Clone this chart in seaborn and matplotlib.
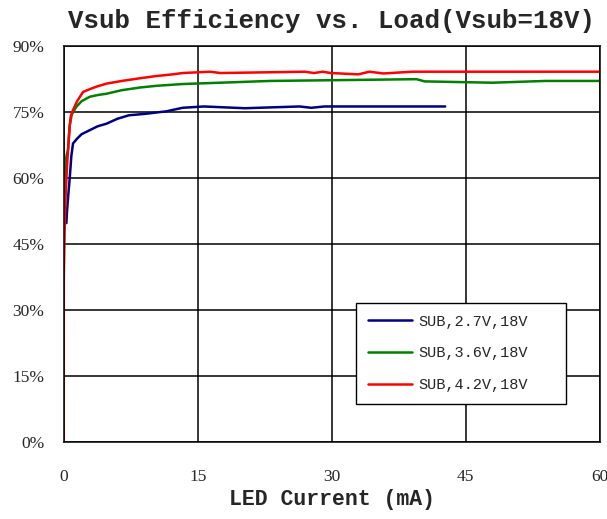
import pandas as pd
import matplotlib
matplotlib.use("Agg")
import matplotlib.pyplot as plt
import seaborn as sns

# LED current (mA) and efficiency (%)
x_27 = [0.3, 0.35, 0.5, 0.67, 0.85, 1.04, 1.5, 2.0, 2.9, 3.8, 4.8, 6.0, 7.3, 9.0, 11.5, 13.3, 15.7, 20.3, 23.3, 26.4, 27.7, 29.2, 42.7]
y_27 = [49.8, 52.0, 56.0, 60.0, 65.0, 67.9, 69.0, 70.0, 70.9, 71.8, 72.4, 73.5, 74.3, 74.6, 75.2, 76.0, 76.3, 75.9, 76.1, 76.3, 76.0, 76.3, 76.3]

x_36 = [0.03, 0.05, 0.1, 0.2, 0.35, 0.48, 0.67, 0.9, 1.4, 2.0, 2.9, 3.8, 4.8, 6.5, 8.5, 10.4, 13.3, 23.1, 39.5, 40.4, 48.0, 53.9, 60.0]
y_36 = [52.0, 56.8, 60.0, 63.6, 65.5, 66.4, 72.0, 74.5, 76.2, 77.5, 78.5, 78.9, 79.2, 80.0, 80.6, 81.0, 81.4, 82.1, 82.5, 82.0, 81.7, 82.1, 82.1]

x_42 = [0.0, 0.01, 0.1, 0.22, 0.35, 0.48, 0.63, 0.78, 1.04, 1.5, 2.16, 3.0, 3.8, 4.8, 6.5, 8.5, 10.3, 12.2, 13.3, 16.4, 17.5, 27.0, 28.0, 29.0, 29.9, 33.0, 34.2, 35.8, 39.0, 60.0]
y_42 = [0.0, 37.5, 48.0, 56.6, 62.0, 66.4, 71.0, 74.0, 75.5, 77.5, 79.6, 80.3, 80.9, 81.5, 82.1, 82.7, 83.2, 83.6, 83.9, 84.2, 83.9, 84.2, 83.9, 84.2, 83.9, 83.6, 84.2, 83.8, 84.2, 84.2]

series_names = ["SUB,2.7V,18V", "SUB,3.6V,18V", "SUB,4.2V,18V"]
series_colors = ["#000080", "#008000", "#ff0000"]

x_ticks = [0, 15, 30, 45, 60]
y_ticks = [0, 15, 30, 45, 60, 75, 90]

frames = []
for name, xs, ys in zip(series_names, [x_27, x_36, x_42], [y_27, y_36, y_42]):
    frames.append(pd.DataFrame({"current": xs, "eff": ys, "series": name}))
df = pd.concat(frames, ignore_index=True)

sns.set_theme(style="white")
plt.rcParams["font.family"] = ["Liberation Serif", "DejaVu Serif"]

fig = plt.figure(figsize=(6.07, 5.19), dpi=100)
ax = fig.add_axes([0.105, 0.148, 0.883, 0.763])

for name, col in zip(series_names, series_colors):
    sub = df[df["series"] == name]
    sns.lineplot(data=sub, x="current", y="eff", color=col, lw=1.8, ax=ax,
                 estimator=None, sort=False, label=name)

ax.set_xlim(0, 60)
ax.set_ylim(0, 90)
ax.set_xticks(x_ticks)
ax.set_yticks(y_ticks)
ax.set_yticklabels([f"{t}%" for t in y_ticks])
ax.grid(True, color="black", lw=1.1)
ax.tick_params(axis="both", length=0, labelsize=12.5)
ax.tick_params(axis="x", pad=19)
ax.tick_params(axis="y", pad=14)
for sp in ax.spines.values():
    sp.set_color("black")
    sp.set_linewidth(1.1)

ax.set_title("Vsub Efficiency vs. Load(Vsub=18V)", family="Liberation Mono",
             fontweight="bold", fontsize=18.5, pad=13, x=0.5)
ax.set_xlabel("LED Current (mA)", family="Liberation Mono", fontweight="bold",
              fontsize=15.5, labelpad=3)
ax.set_ylabel("")

leg = ax.legend(loc="lower left", bbox_to_anchor=(0.545, 0.096, 0.393, 0.255),
                mode="expand", fancybox=False, framealpha=1, edgecolor="black",
                prop={"family": "Liberation Mono", "size": 11},
                handlelength=2.9, handletextpad=0.4, labelspacing=1.15,
                borderpad=0.8, borderaxespad=0)
leg.get_frame().set_linewidth(1.0)

fig.savefig("out.png", dpi=100, facecolor="white")
